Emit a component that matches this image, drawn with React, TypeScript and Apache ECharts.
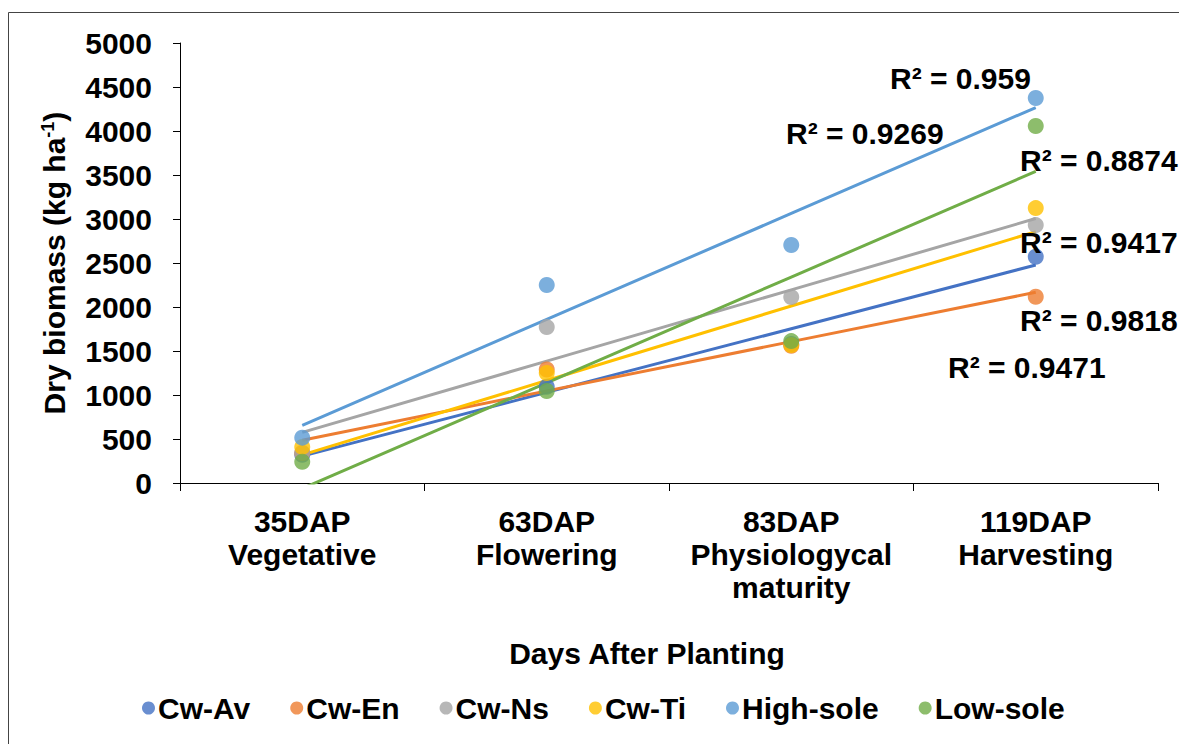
import React, { useEffect, useRef } from "react";
import * as echarts from "echarts";

const categories = [
  "35DAP\nVegetative",
  "63DAP\nFlowering",
  "83DAP\nPhysiologycal\nmaturity",
  "119DAP\nHarvesting",
];

const seriesNames = ["Cw-Av", "Cw-En", "Cw-Ns", "Cw-Ti", "High-sole", "Low-sole"];
const cwAv = [320, 1094, 1580, 2571];
const cwEn = [340, 1290, 1560, 2117];
const cwNs = [344, 1772, 2113, 2931];
const cwTi = [410, 1250, 1568, 3124];
const highSole = [515, 2250, 2705, 4375];
const lowSole = [242, 1045, 1613, 4057];
const colors = ["#4472C4", "#ED7D31", "#A5A5A5", "#FFC000", "#5B9BD5", "#70AD47"];

const r2Labels = ["R² = 0.959", "R² = 0.9269", "R² = 0.8874", "R² = 0.9417", "R² = 0.9818", "R² = 0.9471"];
const r2Pos = [
  [890, 78],
  [786, 133],
  [1020, 160],
  [1020, 242],
  [1020, 320],
  [948, 367],
];

const FONT = "'Liberation Sans', Arial, sans-serif";
const FS = 30;

function fit(ys: number[]): number[] {
  const n = ys.length;
  const xs = ys.map((_, i) => i + 1);
  const mx = xs.reduce((a, b) => a + b, 0) / n;
  const my = ys.reduce((a, b) => a + b, 0) / n;
  let sxy = 0;
  let sxx = 0;
  for (let i = 0; i < n; i++) {
    sxy += (xs[i] - mx) * (ys[i] - my);
    sxx += (xs[i] - mx) * (xs[i] - mx);
  }
  const b = sxy / sxx;
  const a = my - b * mx;
  return xs.map((x) => a + b * x);
}

export default function App() {
  const ref = useRef<HTMLDivElement>(null);
  useEffect(() => {
    if (!ref.current) return;
    const chart = echarts.init(ref.current, null, { renderer: "svg" });
    const data = [cwAv, cwEn, cwNs, cwTi, highSole, lowSole];
    const series: any[] = [];
    data.forEach((d, i) => {
      series.push({
        type: "line",
        name: seriesNames[i] + " trend",
        data: fit(d),
        symbol: "none",
        silent: true,
        clip: true,
        z: 1,
        lineStyle: { color: colors[i], width: 3 },
      });
    });
    data.forEach((d, i) => {
      series.push({
        type: "scatter",
        name: seriesNames[i],
        data: d,
        symbol: "circle",
        symbolSize: 16,
        z: 3,
        itemStyle: { color: colors[i] },
      });
    });
    chart.setOption({
      animation: false,
      backgroundColor: "#fff",
      grid: { left: 180, top: 43, right: 21, bottom: 261, containLabel: false },
      legend: {
        data: seriesNames,
        left: 137,
        top: 688,
        icon: "circle",
        itemWidth: 13,
        itemHeight: 13,
        itemGap: 40,
        textStyle: { fontFamily: FONT, fontSize: FS, fontWeight: "bold", color: "#000", padding: [0, 0, 0, -2] },
      },
      xAxis: {
        type: "category",
        data: categories,
        boundaryGap: true,
        axisLine: { show: true, lineStyle: { color: "#000", width: 1 } },
        axisTick: { show: true, alignWithLabel: false, length: 8, lineStyle: { color: "#000" } },
        axisLabel: {
          margin: 22,
          fontFamily: FONT,
          fontSize: FS,
          fontWeight: "bold",
          color: "#000",
          lineHeight: 33,
          interval: 0,
        },
        name: "Days After Planting",
        nameLocation: "middle",
        nameGap: 155,
        nameTextStyle: { fontFamily: FONT, fontSize: FS, fontWeight: "bold", color: "#000", padding: [0, 44, 0, 0] },
      },
      yAxis: {
        type: "value",
        min: 0,
        max: 5000,
        interval: 500,
        axisLine: { show: true, lineStyle: { color: "#000", width: 1 } },
        axisTick: { show: true, length: 7, lineStyle: { color: "#000" } },
        splitLine: { show: false },
        axisLabel: {
          margin: 28,
          fontFamily: FONT,
          fontSize: FS,
          fontWeight: "bold",
          color: "#000",
          formatter: (v: number) => String(v),
        },
        name: "Dry biomass (kg ha{sup|-1})",
        nameLocation: "middle",
        nameGap: 111,
        nameTextStyle: {
          fontFamily: FONT,
          fontSize: FS,
          fontWeight: "bold",
          color: "#000",
          rich: {
            sup: { fontFamily: FONT, fontSize: 18, fontWeight: "bold", color: "#000", verticalAlign: "top", padding: [0, 0, 12, 0] },
          },
        },
      },
      graphic: [
        {
          type: "rect",
          silent: true,
          z: 100,
          shape: { x: 8.5, y: 12.5, width: 1300, height: 900 },
          style: { fill: null, stroke: "#444", lineWidth: 1 },
        },
        ...r2Labels.map((t, i) => ({
          type: "text",
          x: r2Pos[i][0],
          y: r2Pos[i][1],
          z: 50,
          style: {
            text: t,
            font: `bold ${FS}px ${FONT}`,
            fill: "#000",
            textVerticalAlign: "middle",
            verticalAlign: "middle",
          },
        })),
      ],
      series,
    });
    return () => chart.dispose();
  }, []);
  return <div ref={ref} style={{ position: "absolute", left: 0, top: 0, width: 1179, height: 744 }} />;
}
